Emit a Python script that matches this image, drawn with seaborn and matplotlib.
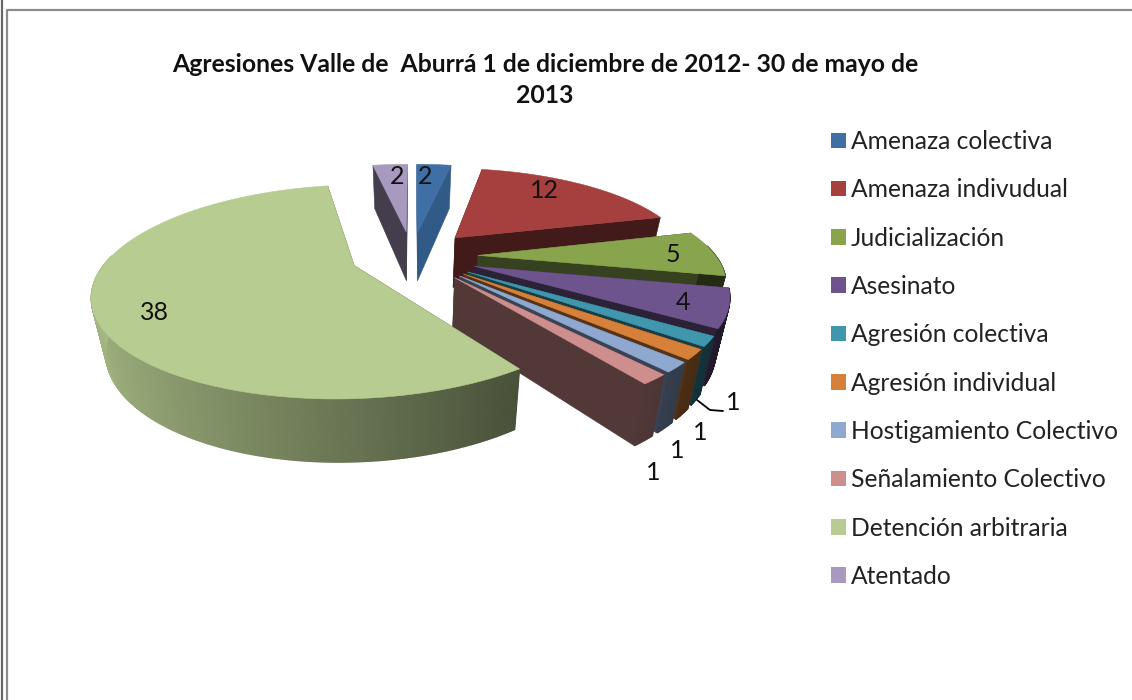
import numpy as np
import matplotlib.pyplot as plt
from matplotlib.colors import to_rgb
from matplotlib.patches import Patch
import seaborn as sns

# datos del grafico
categorias = ['Amenaza colectiva', 'Amenaza indivudual', 'Judicialización', 'Asesinato',
              'Agresión colectiva', 'Agresión individual', 'Hostigamiento Colectivo',
              'Señalamiento Colectivo', 'Detención arbitraria', 'Atentado']
valores = [2, 12, 5, 4, 1, 1, 1, 1, 38, 2]

titulo = 'Agresiones Valle de  Aburrá 1 de diciembre de 2012- 30 de mayo de\n2013'

colores = ['#3F6FA5', '#A5403E', '#88A44D', '#6E548D', '#3F96AD',
           '#D6803A', '#8FA8CF', '#CE8E8D', '#B7CC91', '#A899BF']
color_lateral = {0: '#315A87'}

# posicion de las etiquetas, en pixeles
pos_etiquetas = [(425, 177), (544, 190), (673, 254), (683, 303), (733, 402),
                 (700, 433), (677, 450), (653, 473), (154, 312), (397, 176)]

# proyeccion de la torta 3D
X0, Y0 = 412, 256
ESC_X, ESC_Y = 245, 96
PERSP = 0.24
CONV = 0.045
EXPLOSION = 0.27
RADIO = 0.97
# la porcion grande esta menos separada y un poco mas ancha
EXPLOSION_GRANDE = 0.25
RADIO_GRANDE = 1.0

sns.set_theme(style='white')
plt.rcParams['font.family'] = ['Lato', 'DejaVu Sans']


def proyectar(u, v, z=0):
    w = 1 / (1 + PERSP * v)
    x = X0 + ESC_X * u * w * (1 - CONV * z)
    y = Y0 - ESC_Y * v * w + (17 + 34 * w) * z
    return x, y


def cara(ax, puntos, color, grosor=0.4):
    xs = [p[0] for p in puntos]
    ys = [p[1] for p in puntos]
    ax.fill(xs, ys, color=color, linewidth=grosor)


def dibujar_porcion(ax, ini, fin, color, lateral, radio, explosion):
    medio = np.radians((ini + fin) / 2)
    cu = explosion * np.sin(medio)
    cv = explosion * np.cos(medio)
    angulos = np.radians(np.linspace(ini, fin, max(int(fin - ini) * 2, 6) + 1))
    us = cu + radio * np.sin(angulos)
    vs = cv + radio * np.cos(angulos)

    # paredes radiales
    for u, v in [(us[0], vs[0]), (us[-1], vs[-1])]:
        cara(ax, [proyectar(cu, cv), proyectar(u, v), proyectar(u, v, 1), proyectar(cu, cv, 1)], lateral)

    # pared exterior con degradado (solo la parte que mira a la camara)
    base = np.array(to_rgb(color))
    for i in range(len(angulos) - 1):
        t = (angulos[i] + angulos[i + 1]) / 2
        if np.cos(t) > 0.1:
            continue
        f = 0.58 - 0.32 * np.sin(t)
        c = tuple(np.clip(base * f, 0, 1))
        cara(ax, [proyectar(us[i], vs[i]), proyectar(us[i + 1], vs[i + 1]),
                  proyectar(us[i + 1], vs[i + 1], 1), proyectar(us[i], vs[i], 1)], c, grosor=1.0)

    # cara superior
    arriba = [proyectar(cu, cv)] + [proyectar(u, v) for u, v in zip(us, vs)]
    cara(ax, arriba, color)


fig = plt.figure(figsize=(11.32, 7), dpi=100, facecolor='white')
ax = fig.add_axes([0, 0, 1, 1])
ax.set_xlim(0, 1132)
ax.set_ylim(700, 0)
ax.axis('off')

# marco
ax.plot([2, 2], [0, 700], color='#666666', lw=1.6)
ax.plot([7, 7, 1132], [700, 10, 10], color='#8c8c8c', lw=1.6)

limites = np.concatenate([[0], np.cumsum(valores)]) / sum(valores) * 360
paleta = sns.color_palette(colores)

# orden de dibujo: la porcion grande va al final
orden = [i for i in range(len(valores)) if i != 8] + [8]
for i in orden:
    oscuro = tuple(np.array(paleta[i]) * 0.4)
    radio = RADIO_GRANDE if i == 8 else RADIO
    explosion = EXPLOSION_GRANDE if i == 8 else EXPLOSION
    dibujar_porcion(ax, limites[i], limites[i + 1], colores[i], color_lateral.get(i, oscuro), radio, explosion)

for i, (x, y) in enumerate(pos_etiquetas):
    ax.text(x, y, str(valores[i]), fontsize=18, color='#111111', ha='center', va='center')

# linea guia de la etiqueta
ax.plot([697, 710, 723], [400, 410, 411], color='black', lw=1.3)

ax.text(545, 80, titulo, fontsize=17.85, fontweight='bold', color='#111111',
        ha='center', va='center', linespacing=1.47)

manijas = [Patch(facecolor=c, edgecolor='none') for c in colores]
ax.legend(manijas, categorias, loc='upper left', bbox_to_anchor=(831 / 1132, 1 - 130 / 700),
          frameon=False, fontsize=17.7, handlelength=0.6, handleheight=0.6,
          handletextpad=0.2, labelspacing=1.03, borderpad=0, borderaxespad=0,
          labelcolor='#222222')

fig.savefig('out.png', dpi=100)
